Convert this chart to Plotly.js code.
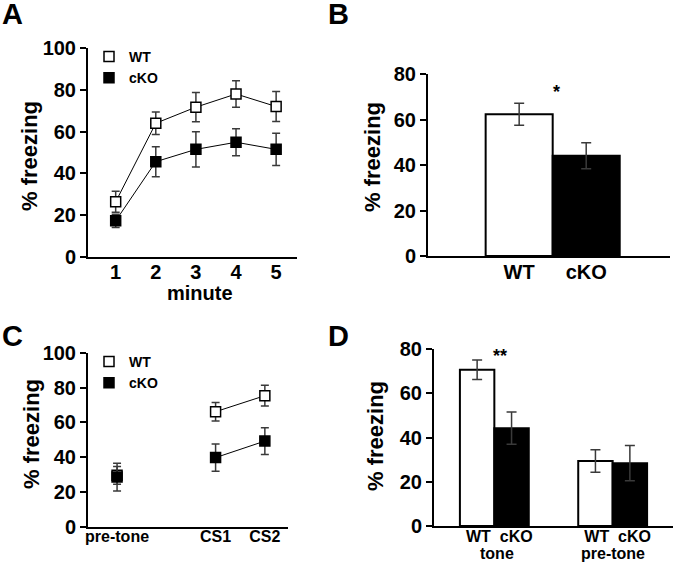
<!DOCTYPE html>
<html>
<head>
<meta charset="utf-8">
<script src="https://cdn.plot.ly/plotly-3.0.1.min.js"></script>
<style>html,body{margin:0;padding:0;background:#fff;}</style>
</head>
<body>
<div id="chart" style="width:673px;height:564px"></div>
<script>
// ---- Panel A: freezing per minute ----
const minutes = [1, 2, 3, 4, 5];
const aWT = [26.4, 64.0, 71.7, 78.0, 72.0];
const aWTerr = [5.0, 5.4, 7.0, 6.3, 7.2];
const aKO = [17.3, 45.6, 51.5, 54.9, 51.5];
const aKOerr = [3.2, 7.2, 8.4, 6.5, 7.7];

// ---- Panel B: mean freezing ----
const bGroups = ['WT', 'cKO'];
const bVals = [62.3, 44.1];
const bErr = [4.8, 5.7];
const bSig = '*';

// ---- Panel C: tone test ----
const cLabels = ['pre-tone', 'CS1', 'CS2'];
const cPos = [0, 2, 3];
const cWT = [29.5, 66.1, 75.3];
const cWTerr = [5.1, 5.3, 6.0];
const cKO = [28.5, 39.7, 49.2];
const cKOerr = [8.0, 7.8, 7.7];

// ---- Panel D: tone vs pre-tone ----
const dGroups = ['tone', 'pre-tone'];
const dWT = [70.6, 29.4];
const dWTerr = [4.4, 5.1];
const dKO = [44.2, 28.4];
const dKOerr = [7.3, 8.0];
const dSig = '**';

const seriesNames = ['WT', 'cKO'];

const FONT = 'Liberation Sans, Arial, sans-serif';
const errStyle = (arr, w) => ({type: 'data', array: arr, visible: true, color: '#3a3a3a', thickness: 1.5, width: w});
const wtMarker = {symbol: 'square', size: 10, color: '#ffffff', line: {color: '#000', width: 1.5}};
const koMarker = {symbol: 'square', size: 10, color: '#000000', line: {color: '#000', width: 1.5}};

const traces = [
  // A lines
  {x: minutes, y: aWT, mode: 'lines', line: {color: '#000', width: 1}, xaxis: 'x', yaxis: 'y', showlegend: false, hoverinfo: 'skip'},
  {x: minutes, y: aKO, mode: 'lines', line: {color: '#000', width: 1}, xaxis: 'x', yaxis: 'y', showlegend: false, hoverinfo: 'skip'},
  // A markers
  {x: minutes, y: aWT, mode: 'markers', name: seriesNames[0], marker: wtMarker, error_y: errStyle(aWTerr, 4), xaxis: 'x', yaxis: 'y', legend: 'legend'},
  {x: minutes, y: aKO, mode: 'markers', name: seriesNames[1], marker: koMarker, error_y: errStyle(aKOerr, 4), xaxis: 'x', yaxis: 'y', legend: 'legend'},
  // B bars
  {type: 'bar', x: bGroups, y: bVals, width: 1, marker: {color: ['#ffffff', '#000000'], line: {color: '#000', width: 2}},
   error_y: errStyle(bErr, 5), xaxis: 'x2', yaxis: 'y2', showlegend: false},
  // C lines (CS only)
  {x: cPos.slice(1), y: cWT.slice(1), mode: 'lines', line: {color: '#000', width: 1}, xaxis: 'x3', yaxis: 'y3', showlegend: false, hoverinfo: 'skip'},
  {x: cPos.slice(1), y: cKO.slice(1), mode: 'lines', line: {color: '#000', width: 1}, xaxis: 'x3', yaxis: 'y3', showlegend: false, hoverinfo: 'skip'},
  // C markers
  {x: cPos, y: cWT, mode: 'markers', name: seriesNames[0], marker: wtMarker, error_y: errStyle(cWTerr, 4), xaxis: 'x3', yaxis: 'y3', legend: 'legend2'},
  {x: cPos, y: cKO, mode: 'markers', name: seriesNames[1], marker: koMarker, error_y: errStyle(cKOerr, 4), xaxis: 'x3', yaxis: 'y3', legend: 'legend2'},
  // D bars
  {type: 'bar', x: dGroups, y: dWT, name: seriesNames[0], marker: {color: '#ffffff', line: {color: '#000', width: 2}},
   error_y: errStyle(dWTerr, 5), xaxis: 'x4', yaxis: 'y4', showlegend: false},
  {type: 'bar', x: dGroups, y: dKO, name: seriesNames[1], marker: {color: '#000000', line: {color: '#000', width: 2}},
   error_y: errStyle(dKOerr, 5), xaxis: 'x4', yaxis: 'y4', showlegend: false}
];

const W = 673, H = 564;
const px = v => v / W;
const py = v => 1 - v / H;

const yAxisBase = {
  showline: true, linewidth: 2, linecolor: '#000', ticks: 'outside', ticklen: 6, tickwidth: 2, tickcolor: '#000',
  showgrid: false, zeroline: false, dtick: 20,
  tickfont: {family: FONT, size: 20, color: '#000', weight: 'bold'}
};
const xAxisBase = {
  showline: true, linewidth: 2, linecolor: '#000', ticks: '', showgrid: false, zeroline: false,
  tickfont: {family: FONT, size: 20, color: '#000', weight: 'bold'}
};
const boldFont = (s) => ({family: FONT, size: s, color: '#000', weight: 'bold'});

const layout = {
  width: W, height: H,
  margin: {l: 0, r: 0, t: 0, b: 0},
  paper_bgcolor: '#fff', plot_bgcolor: 'rgba(0,0,0,0)',
  font: {family: FONT, color: '#000', weight: 'bold'},
  barmode: 'group', bargap: 0.418, bargroupgap: 0,
  xaxis: Object.assign({}, xAxisBase, {domain: [px(88), px(297)], range: [0.31, 5.52], tickvals: minutes, ticklabelstandoff: -4, anchor: 'y'}),
  yaxis: Object.assign({}, yAxisBase, {domain: [py(257), py(48)], range: [0, 100], anchor: 'x'}),
  xaxis2: Object.assign({}, xAxisBase, {domain: [px(428), px(670)], range: [-1.36, 2.25], ticklabelstandoff: -3, anchor: 'y2'}),
  yaxis2: Object.assign({}, yAxisBase, {domain: [py(256), py(74)], range: [0, 80], anchor: 'x2'}),
  xaxis3: Object.assign({}, xAxisBase, {domain: [px(88), px(288)], range: [-0.59, 3.47], tickvals: cPos, ticktext: cLabels,
    tickfont: boldFont(16), ticklabelstandoff: -6, anchor: 'y3'}),
  yaxis3: Object.assign({}, yAxisBase, {domain: [py(526.7), py(352.7)], range: [0, 100], anchor: 'x3'}),
  xaxis4: Object.assign({}, xAxisBase, {domain: [px(434), 1], range: [-0.51, 1.51], tickmode: 'array', tickvals: dGroups,
    ticktext: dGroups.map(() => seriesNames.join('\u00a0\u00a0')), tickfont: boldFont(16), ticklabelshift: 5, ticklabelstandoff: -5, anchor: 'y4'}),
  yaxis4: Object.assign({}, yAxisBase, {domain: [py(526), py(349)], range: [0, 80], anchor: 'x4'}),
  legend: {x: px(89), y: py(41), xanchor: 'left', yanchor: 'top', bgcolor: 'rgba(0,0,0,0)', borderwidth: 0,
    font: boldFont(14), tracegroupgap: 0, itemwidth: 30},
  legend2: {x: px(89), y: py(346), xanchor: 'left', yanchor: 'top', bgcolor: 'rgba(0,0,0,0)', borderwidth: 0,
    font: boldFont(14), tracegroupgap: 0, itemwidth: 30},
  annotations: [
    // panel letters
    {text: 'A', xref: 'paper', yref: 'paper', x: px(12), y: 1, yshift: 4, xanchor: 'center', yanchor: 'top', showarrow: false, font: boldFont(29)},
    {text: 'B', xref: 'paper', yref: 'paper', x: px(338), y: 1, yshift: 4, xanchor: 'center', yanchor: 'top', showarrow: false, font: boldFont(29)},
    {text: 'C', xref: 'paper', yref: 'paper', x: px(12), y: py(336), xanchor: 'center', yanchor: 'middle', showarrow: false, font: boldFont(29)},
    {text: 'D', xref: 'paper', yref: 'paper', x: px(338), y: py(336), xanchor: 'center', yanchor: 'middle', showarrow: false, font: boldFont(29)},
    // y-axis titles
    {text: '% freezing', xref: 'paper', yref: 'paper', x: px(29), y: py(156), textangle: -90, showarrow: false, xanchor: 'center', yanchor: 'middle', font: boldFont(22)},
    {text: '% freezing', xref: 'paper', yref: 'paper', x: px(372), y: py(157), textangle: -90, showarrow: false, xanchor: 'center', yanchor: 'middle', font: boldFont(22)},
    {text: '% freezing', xref: 'paper', yref: 'paper', x: px(32), y: py(434), textangle: -90, showarrow: false, xanchor: 'center', yanchor: 'middle', font: boldFont(22)},
    {text: '% freezing', xref: 'paper', yref: 'paper', x: px(375), y: py(436), textangle: -90, showarrow: false, xanchor: 'center', yanchor: 'middle', font: boldFont(22)},
    // x-axis title A
    {text: 'minute', xref: 'paper', yref: 'paper', x: px(200), y: py(293), showarrow: false, xanchor: 'center', yanchor: 'middle', font: boldFont(20)},
    // group labels D
    {text: dGroups[0], xref: 'x4', yref: 'paper', x: dGroups[0], y: py(553), xshift: 3, showarrow: false, xanchor: 'center', yanchor: 'middle', font: boldFont(16)},
    {text: dGroups[1], xref: 'x4', yref: 'paper', x: dGroups[1], y: py(553), xshift: 0, showarrow: false, xanchor: 'center', yanchor: 'middle', font: boldFont(16)},
    // significance
    {text: bSig, xref: 'x2', yref: 'y2', x: 0.55, y: 72, showarrow: false, xanchor: 'center', yanchor: 'middle', font: boldFont(18)},
    {text: dSig, xref: 'x4', yref: 'y4', x: 0, y: 77, xshift: 6, showarrow: false, xanchor: 'center', yanchor: 'middle', font: boldFont(18)}
  ]
};

Plotly.newPlot('chart', traces, layout, {displayModeBar: false, staticPlot: true});
</script>
</body>
</html>
